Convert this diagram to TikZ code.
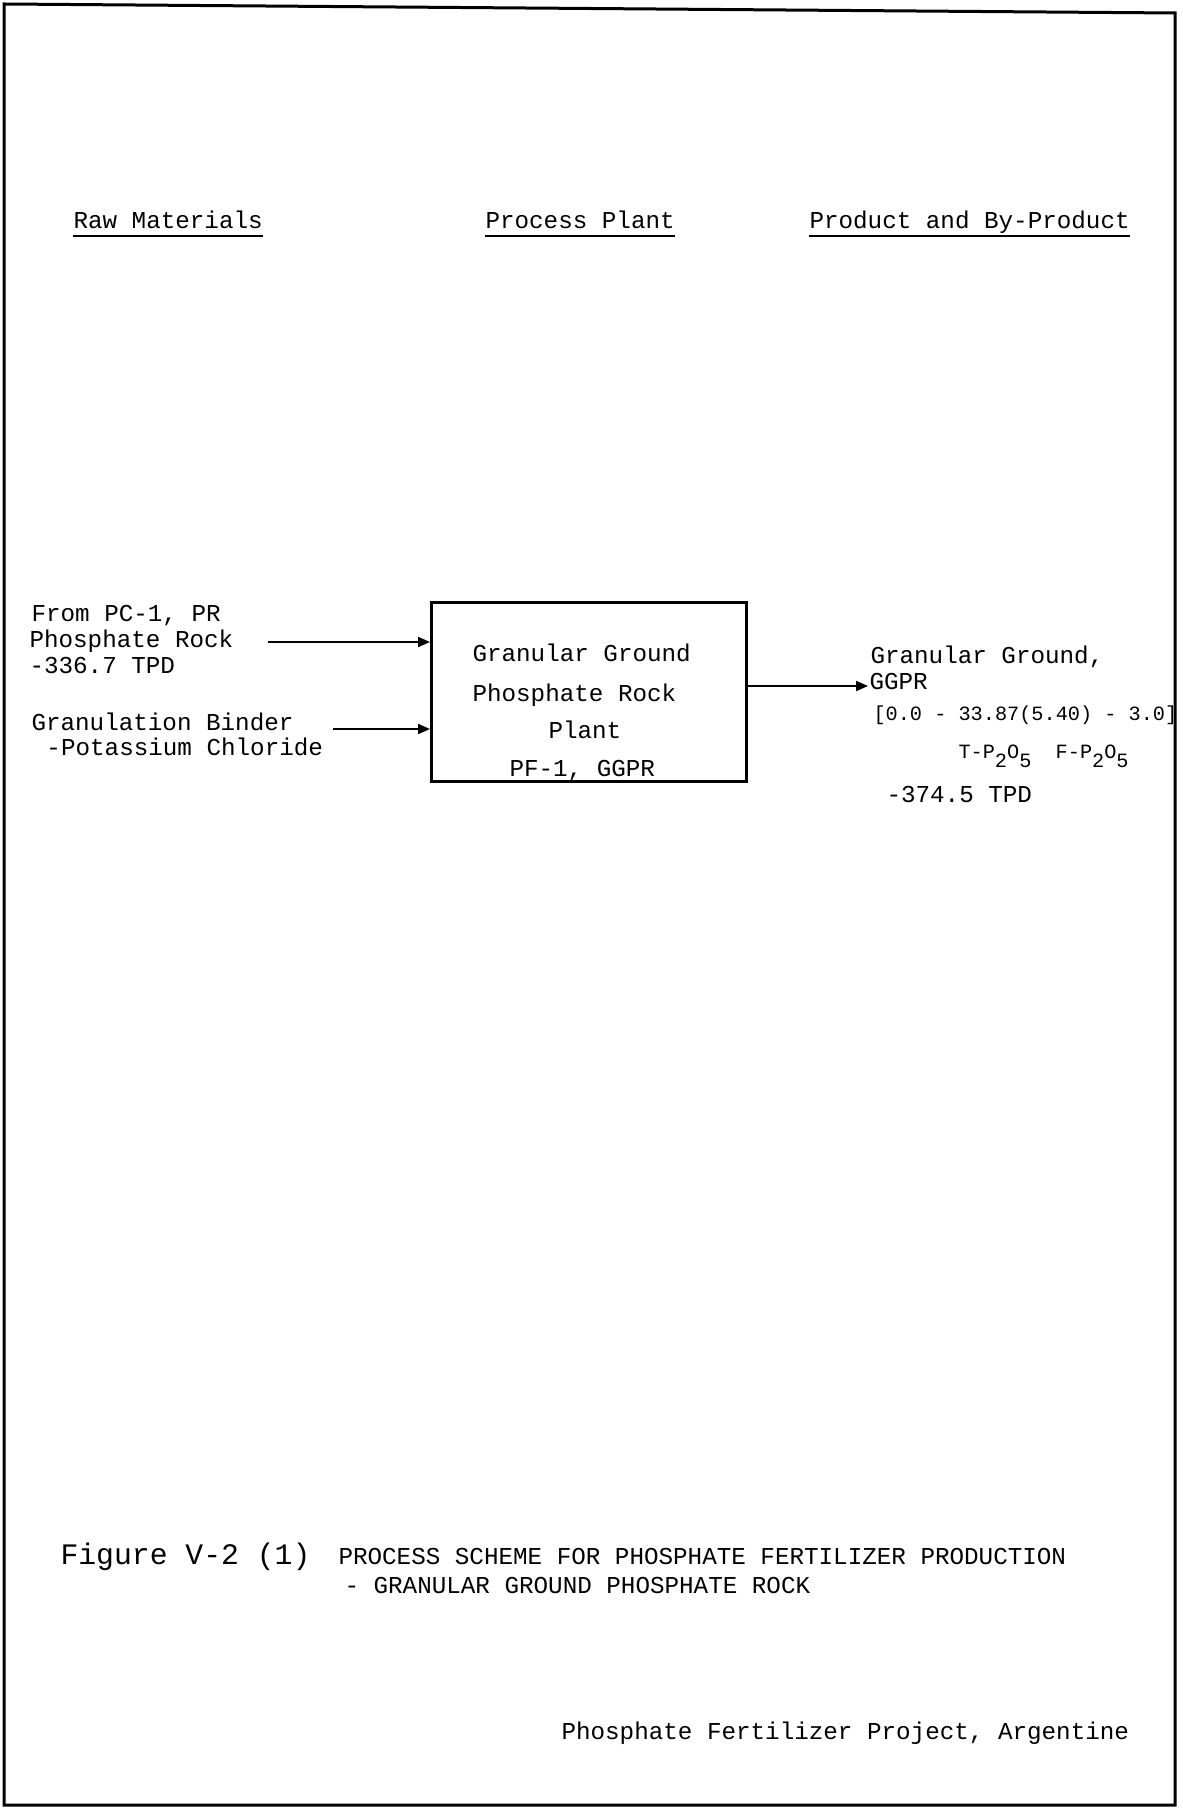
\documentclass[tikz,border=0pt]{standalone}
\usepackage{fontspec}
\setmainfont{Liberation Mono}
\usetikzlibrary{arrows.meta}
\newcommand\mainsz{\fontsize{9.7}{11}\selectfont\frenchspacing}
\newcommand\smallsz{\fontsize{8.1}{9.5}\selectfont\frenchspacing}
\newcommand\bigsz{\fontsize{11.9}{14}\selectfont\frenchspacing}
\newcommand\subdn[1]{\raisebox{-0.45em}{#1}}
\tikzset{
  txt/.style={anchor=base west, inner sep=0pt, font=\mainsz},
  stxt/.style={txt, font=\smallsz},
  btxt/.style={txt, font=\bigsz},
  plantbox/.style={draw, line width=1pt, inner sep=0pt, anchor=north west,
                   minimum width=126pt, minimum height=71.6pt},
  flow/.style={line width=0.8pt, -{Triangle[length=4.8pt,width=4pt]}},
  uline/.style={line width=1pt},
  frame/.style={line width=1.2pt},
}
\begin{document}
\begin{tikzpicture}[x=0.4pt,y=-0.4pt]
\useasboundingbox (0,0) rectangle (1182,1810);
% page frame
\draw[frame] (4,4) -- (1175,13) -- (1175,1805) -- (4,1805) -- cycle;

% column headers
\node[txt] (hraw) at (73,229) {Raw Materials};
\node[txt] (hproc) at (485,229) {Process Plant};
\node[txt] (hprod) at (809,229) {Product and By-Product};
\draw[uline] ([yshift=-2.8pt]hraw.base west) -- ([yshift=-2.8pt]hraw.base east);
\draw[uline] ([yshift=-2.8pt]hproc.base west) -- ([yshift=-2.8pt]hproc.base east);
\draw[uline] ([yshift=-2.8pt]hprod.base west) -- ([yshift=-2.8pt]hprod.base east);

% raw materials
\node[txt] (r1) at (31,621) {From PC-1, PR};
\node[txt] (r2) at (29,647) {Phosphate Rock};
\node[txt] (r3) at (29,673) {-336.7 TPD};
\node[txt] (r4) at (31,730) {Granulation Binder};
\node[txt] (r5) at (46,755) {-Potassium Chloride};

% process plant box
\node[plantbox] (box) at (430,601) {};
\node[txt] (b1) at (472,661) {Granular Ground};
\node[txt] (b2) at (472,701) {Phosphate Rock};
\node[txt] (b3) at (548,738) {Plant};
\node[txt] (b4) at (509,776) {PF-1, GGPR};

% inputs
\coordinate (in1) at (268,642);
\coordinate (in2) at (333,729);
\draw[flow] (in1) -- (in1 -| box.west);
\draw[flow] (in2) -- (in2 -| box.west);

% product
\node[txt] (p1) at (870,663) {Granular Ground,};
\node[txt] (p2) at (869,689) {GGPR};
\node[stxt] (p3) at (873,720) {[0.0 - 33.87(5.40) - 3.0]};
\node[stxt] (p4) at (958,758) {T-P\subdn{2}O\subdn{5}\ \ F-P\subdn{2}O\subdn{5}};
\node[txt] (p5) at (886,802) {-374.5 TPD};
\coordinate (out) at (868,686);
\draw[flow] (out -| box.east) -- (out);

% caption
\node[btxt] (c1) at (60,1564) {Figure V-2 (1)};
\node[txt] (c2) at (338,1564) {PROCESS SCHEME FOR PHOSPHATE FERTILIZER PRODUCTION};
\node[txt] (c3) at (344,1593) {- GRANULAR GROUND PHOSPHATE ROCK};
\node[txt] (c4) at (561,1739) {Phosphate Fertilizer Project, Argentine};
\end{tikzpicture}
\end{document}
